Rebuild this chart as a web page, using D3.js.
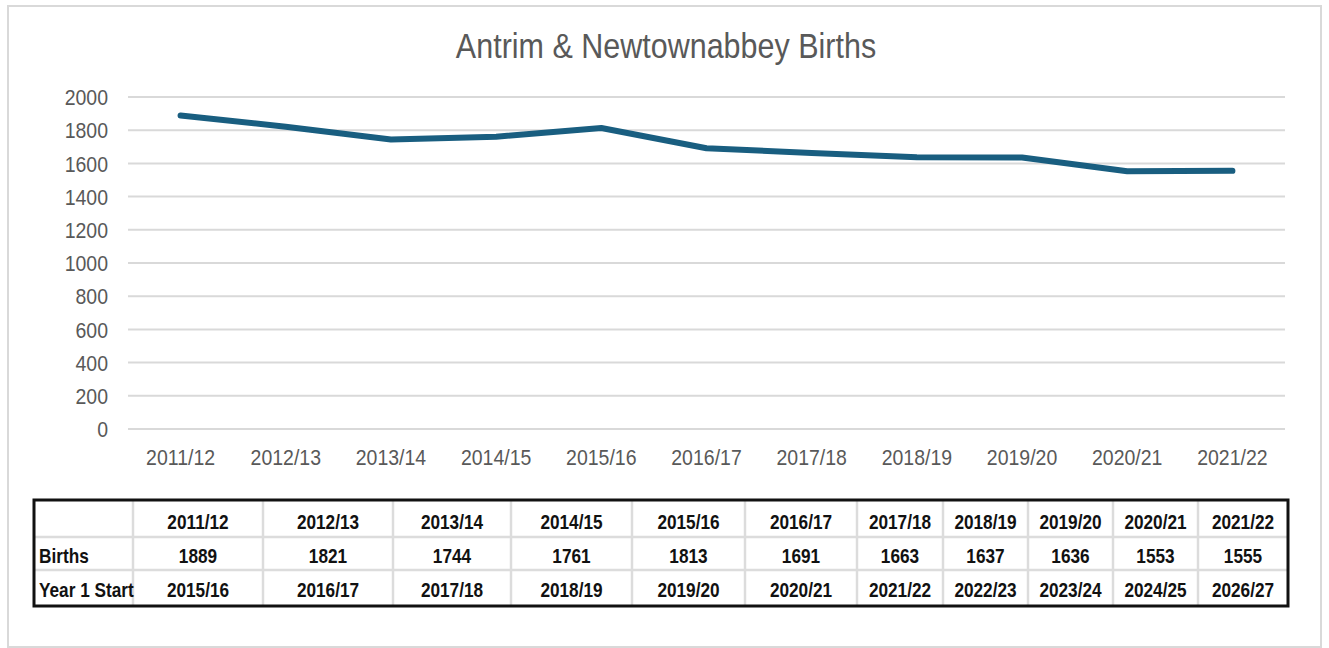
<!DOCTYPE html>
<html>
<head>
<meta charset="utf-8">
<script src="https://cdn.jsdelivr.net/npm/d3@7"></script>
<style>
  html, body { margin: 0; padding: 0; background: #fff; }
  svg { display: block; }
</style>
</head>
<body>
<div id="chart"></div>
<script>
// Data
const years = ['2011/12', '2012/13', '2013/14', '2014/15', '2015/16', '2016/17',
  '2017/18', '2018/19', '2019/20', '2020/21', '2021/22'];
const births = [1889, 1821, 1744, 1761, 1813, 1691, 1663, 1637, 1636, 1553, 1555];
const year1Start = ['2015/16', '2016/17', '2017/18', '2018/19', '2019/20', '2020/21',
  '2021/22', '2022/23', '2023/24', '2024/25', '2026/27'];
const yTicks = [0, 200, 400, 600, 800, 1000, 1200, 1400, 1600, 1800, 2000];
const title = 'Antrim & Newtownabbey Births';

const width = 1329, height = 648;
const plot = { left: 128, right: 1285, top: 97, bottom: 429 };
// table column edges (the pasted table does not line up with the plot bands)
const colEdges = [34, 133, 263, 393, 511, 632, 745, 857, 943, 1028, 1113, 1198, 1288];
const rowEdges = [500, 537, 570, 606];

const svg = d3.select('#chart').append('svg')
  .attr('width', width).attr('height', height);

const defs = svg.append('defs');
defs.append('filter').attr('id', 'soft')
  .attr('x', '-5%').attr('y', '-300%').attr('width', '110%').attr('height', '700%')
  .append('feGaussianBlur').attr('stdDeviation', 3);

// outer frame
svg.append('rect')
  .attr('x', 8).attr('y', 6).attr('width', 1313).attr('height', 641)
  .attr('fill', '#fff').attr('stroke', '#d9d9d9').attr('stroke-width', 2);

const x = d3.scaleBand().domain(years).range([plot.left, plot.right]);
const y = d3.scaleLinear().domain([0, 2000]).range([plot.bottom, plot.top]);
const cx = d => x(d) + x.bandwidth() / 2;

// title
svg.append('text')
  .attr('transform', `translate(666,58) scale(1,1.12)`)
  .attr('text-anchor', 'middle')
  .attr('font-family', 'Liberation Sans, Arial, sans-serif')
  .attr('font-size', '30.5px')
  .attr('fill', '#595959')
  .text(title);

// grid shadows + grid lines
const grid = svg.append('g');
grid.selectAll('.shadow')
  .data(yTicks.filter(d => d > 0))
  .enter().append('line')
  .attr('x1', plot.left).attr('x2', plot.right)
  .attr('y1', d => y(d) + 9).attr('y2', d => y(d) + 9)
  .attr('stroke', '#e2e2e2').attr('stroke-width', 6)
  .attr('filter', 'url(#soft)');

grid.selectAll('.grid')
  .data(yTicks)
  .enter().append('line')
  .attr('x1', plot.left).attr('x2', plot.right)
  .attr('y1', d => y(d)).attr('y2', d => y(d))
  .attr('stroke', '#d9d9d9').attr('stroke-width', 2);

// y axis labels
const yAxis = svg.append('g')
  .attr('transform', `translate(${plot.left - 20},0)`)
  .call(d3.axisLeft(y).tickValues(yTicks).tickFormat(d3.format('d'))
    .tickSize(0).tickPadding(0));
yAxis.select('.domain').remove();
yAxis.selectAll('text')
  .attr('fill', '#595959')
  .attr('font-size', '19.5px')
  .attr('font-family', 'Liberation Sans, Arial, sans-serif')
  .attr('dy', '0.36em')
  .attr('transform', 'scale(1,1.1)');

// x axis labels
const xAxis = svg.append('g')
  .attr('transform', `translate(0,${plot.bottom})`)
  .call(d3.axisBottom(x).tickSize(0).tickPadding(0));
xAxis.select('.domain').remove();
xAxis.selectAll('text')
  .attr('fill', '#595959')
  .attr('font-size', '19.5px')
  .attr('font-family', 'Liberation Sans, Arial, sans-serif')
  .attr('dy', null)
  .attr('y', 33)
  .attr('transform', 'scale(1,1.1)');

// births line
const line = d3.line()
  .x((d, i) => cx(years[i]))
  .y(d => y(d));

svg.append('path')
  .datum(births)
  .attr('d', line)
  .attr('fill', 'none')
  .attr('stroke', '#195e80')
  .attr('stroke-width', 6)
  .attr('stroke-linejoin', 'round')
  .attr('stroke-linecap', 'round');

// data table
const table = svg.append('g');
const rows = [
  { label: '', cells: years },
  { label: 'Births', cells: births },
  { label: 'Year 1 Start', cells: year1Start }
];

// inner cell grid
colEdges.slice(1, -1).forEach(cxe => {
  table.append('line')
    .attr('x1', cxe).attr('x2', cxe)
    .attr('y1', rowEdges[0]).attr('y2', rowEdges[3])
    .attr('stroke', '#dcdcdc').attr('stroke-width', 2.5);
});
rowEdges.slice(1, -1).forEach(rye => {
  table.append('line')
    .attr('x1', colEdges[0]).attr('x2', colEdges[colEdges.length - 1])
    .attr('y1', rye).attr('y2', rye)
    .attr('stroke', '#dcdcdc').attr('stroke-width', 2.5);
});

table.append('rect')
  .attr('x', colEdges[0]).attr('y', rowEdges[0])
  .attr('width', colEdges[colEdges.length - 1] - colEdges[0])
  .attr('height', rowEdges[3] - rowEdges[0])
  .attr('fill', 'none')
  .attr('stroke', '#111').attr('stroke-width', 3);

// narrow bold text, squeezed horizontally to mimic Arial Narrow
const narrow = (sel, px, py, anchor) => sel
  .attr('transform', `translate(${px},${py}) scale(0.84,1)`)
  .attr('text-anchor', anchor)
  .attr('font-family', 'Liberation Sans, Arial, sans-serif')
  .attr('font-weight', 'bold')
  .attr('font-size', '20.5px')
  .attr('fill', '#111');

const baselines = [529, 563, 597];
rows.forEach((row, r) => {
  table.append('text')
    .call(narrow, colEdges[0] + 5, baselines[r], 'start')
    .text(row.label);
  row.cells.forEach((v, i) => {
    table.append('text')
      .call(narrow, (colEdges[i + 1] + colEdges[i + 2]) / 2, baselines[r], 'middle')
      .text(v);
  });
});
</script>
</body>
</html>
